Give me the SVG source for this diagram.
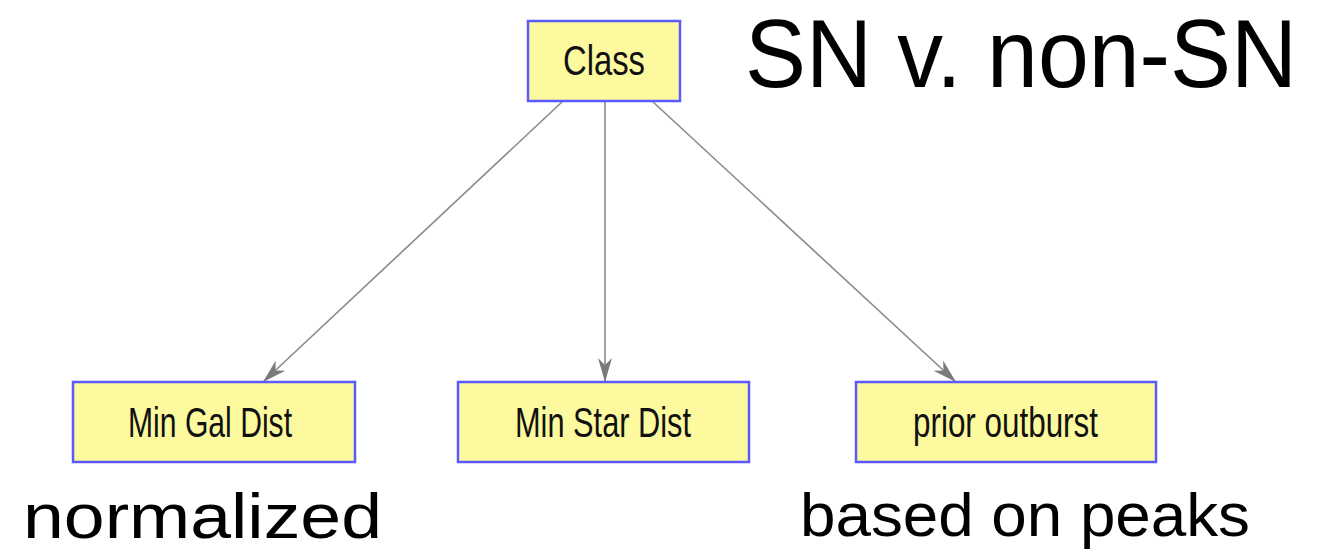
<svg xmlns="http://www.w3.org/2000/svg" width="1337" height="550" viewBox="0 0 1337 550">
<style>
.box{fill:#fdf99f;stroke:#5a5aff;stroke-width:2.5}
.lbl{font-family:"Liberation Sans",Arial,sans-serif;font-size:42px;fill:#111;text-anchor:start}
.big{font-family:"Liberation Sans",Arial,sans-serif;fill:#000}
.edge{stroke:#8a8a8a;stroke-width:1.6;fill:none}
</style>
<defs>
<marker id="arr" markerUnits="userSpaceOnUse" markerWidth="26" markerHeight="18" viewBox="0 0 26 18" refX="24" refY="9" orient="auto">
<path d="M0,2 L7,9 L0,16 L24,9 Z" fill="#7a7a7a"/>
</marker>
</defs>
<rect width="1337" height="550" fill="#fff"/>
<g id="connectors">
<line class="edge" x1="563" y1="101" x2="263" y2="382" marker-end="url(#arr)"/>
<line class="edge" x1="605" y1="101" x2="605" y2="382" marker-end="url(#arr)"/>
<line class="edge" x1="652" y1="101" x2="956" y2="382" marker-end="url(#arr)"/>
</g>
<g id="class">
<rect class="box" x="528" y="21" width="152" height="80"/>
<text class="lbl" x="563" y="75" textLength="82" lengthAdjust="spacingAndGlyphs">Class</text>
</g>
<g id="min-gal-dist">
<rect class="box" x="73" y="382" width="282" height="80"/>
<text class="lbl" x="128" y="437" textLength="164" lengthAdjust="spacingAndGlyphs">Min Gal Dist</text>
</g>
<g id="min-star-dist">
<rect class="box" x="458" y="382" width="291" height="80"/>
<text class="lbl" x="515" y="437" textLength="176" lengthAdjust="spacingAndGlyphs">Min Star Dist</text>
</g>
<g id="prior-outburst">
<rect class="box" x="856" y="382" width="300" height="80"/>
<text class="lbl" x="913" y="437" textLength="185" lengthAdjust="spacingAndGlyphs">prior outburst</text>
</g>
<g id="annotations">
<text class="big" x="745" y="87" font-size="97" textLength="552" lengthAdjust="spacingAndGlyphs">SN v. non-SN</text>
<text class="big" x="23" y="538" font-size="63" textLength="359" lengthAdjust="spacingAndGlyphs">normalized</text>
<text class="big" x="800" y="536" font-size="62" textLength="450" lengthAdjust="spacingAndGlyphs">based on peaks</text>
</g>
</svg>
